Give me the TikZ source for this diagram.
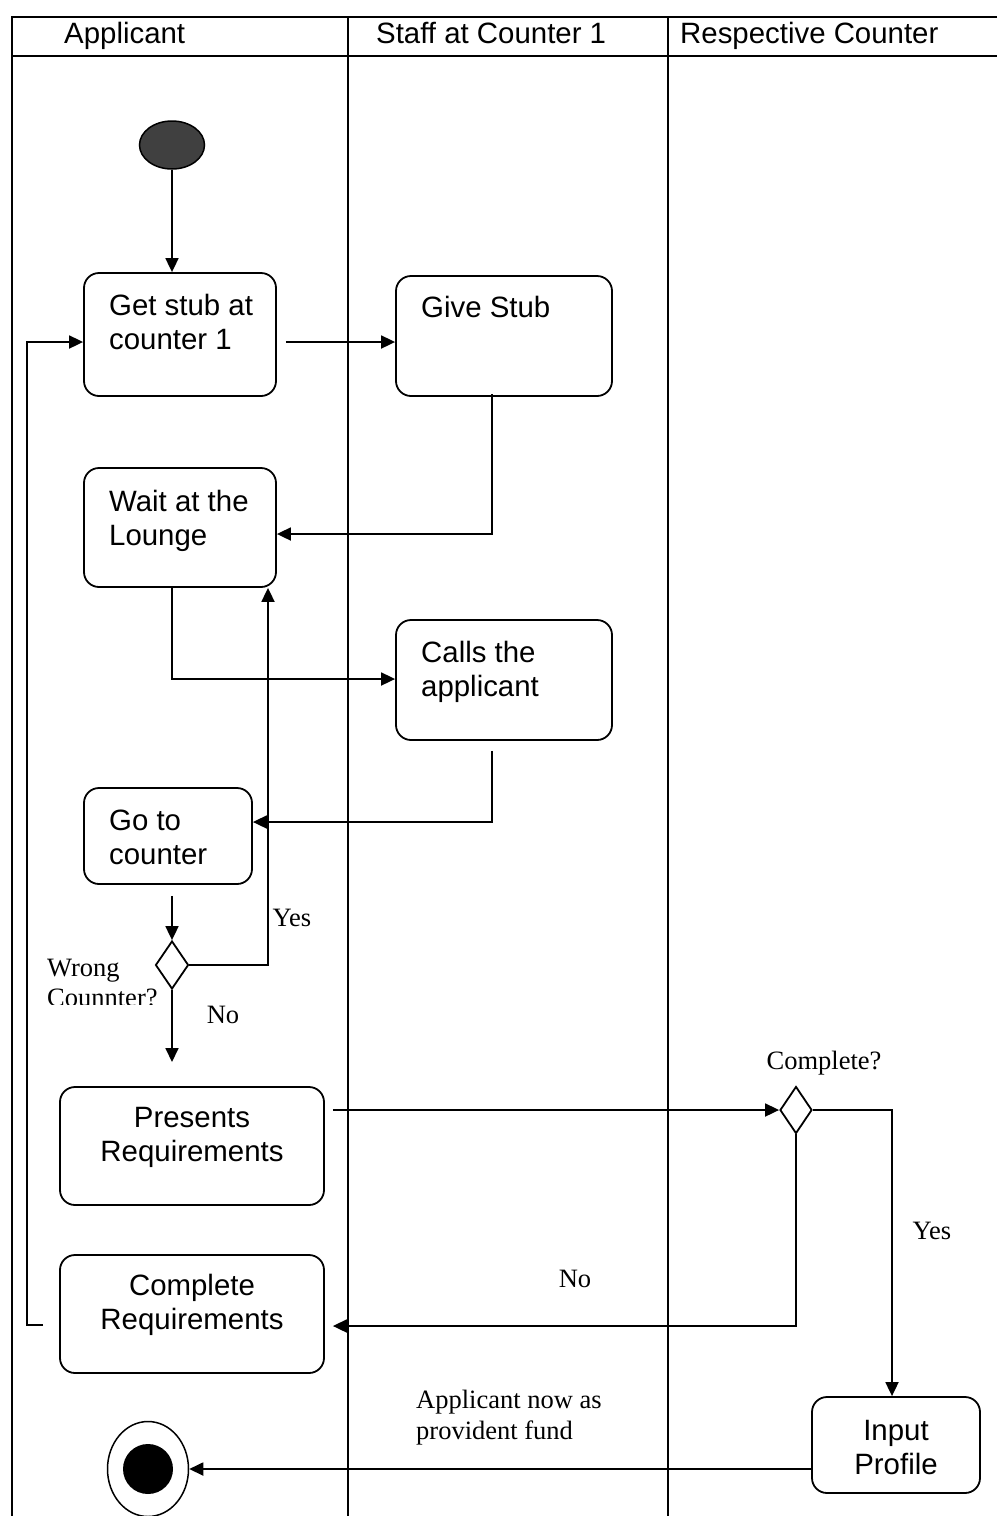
\documentclass[tikz,border=0pt]{standalone}
\usepackage{fontspec}
\setmainfont{Liberation Sans}
\newfontfamily\timesf{Liberation Serif}
\usetikzlibrary{shapes.geometric,arrows.meta,calc}
\begin{document}
\begin{tikzpicture}[x=1pt,y=-1pt,
  box/.style={draw, line width=1.8pt, rounded corners=15pt, inner sep=0pt},
  dec/.style={draw, diamond, line width=1.8pt, inner sep=0pt},
  arr/.style={line width=1.8pt, -{Triangle[length=14pt,width=13pt]}},
  ln/.style={line width=1.8pt},
  frame/.style={line width=2.4pt},
  sans/.style={font=\fontsize{29.4}{34}\selectfont, inner sep=0pt},
  serif/.style={font=\timesf\fontsize{26.5}{30.5}\selectfont, inner sep=0pt}]
\useasboundingbox (0,0) rectangle (997,1516);
% swimlane frame
\draw[frame] (997,17) -- (12,17) -- (12,1516);
\draw[frame] (12,56) -- (997,56);
\draw[frame] (348,17) -- (348,1516);
\draw[frame] (668,17) -- (668,1516);
\node[sans, anchor=base west] (h1) at (64,43) {Applicant};
\node[sans, anchor=base west] (h2) at (376,43) {Staff at Counter 1};
\node[sans, anchor=base west] (h3) at (680,43) {Respective Counter};
% nodes
\node[ellipse, draw, line width=1.5pt, fill=black!75, minimum width=65pt, minimum height=48pt, inner sep=0pt] (start) at (172,145) {};
\node[box, minimum width=192pt, minimum height=123pt] (stub) at (180,334.5) {};
\node[sans, anchor=base west, align=left] (stubt) at (109,349) {Get stub at\\counter 1};
\node[box, minimum width=216pt, minimum height=120pt] (give) at (504,336) {};
\node[sans, anchor=base west] (givet) at (421,317) {Give Stub};
\node[box, minimum width=192pt, minimum height=119pt] (wait) at (180,527.5) {};
\node[sans, anchor=base west, align=left] (waitt) at (109,545) {Wait at the\\Lounge};
\node[box, minimum width=216pt, minimum height=120pt] (calls) at (504,680) {};
\node[sans, anchor=base west, align=left] (callst) at (421,696) {Calls the\\applicant};
\node[box, minimum width=168pt, minimum height=96pt] (goto) at (168,836) {};
\node[sans, anchor=base west, align=left] (gotot) at (109,864) {Go to\\counter};
\node[dec, minimum width=33pt, minimum height=48pt] (wrong) at (172,965) {};
\node[box, minimum width=264pt, minimum height=118pt] (presents) at (192,1146) {};
\node[sans, anchor=base, align=center] (presentst) at (192,1161) {Presents\\Requirements};
\node[box, minimum width=264pt, minimum height=118pt] (complete) at (192,1314) {};
\node[sans, anchor=base, align=center] (completet) at (192,1329) {Complete\\Requirements};
\node[dec, minimum width=32pt, minimum height=47pt] (cdec) at (796,1110) {};
\node[box, minimum width=168pt, minimum height=96pt] (input) at (896,1445) {};
\node[sans, anchor=base, align=center] (inputt) at (896,1474) {Input\\Profile};
\node[ellipse, draw, line width=1.5pt, minimum width=81pt, minimum height=95pt, inner sep=0pt] (endo) at (148,1469) {};
\node[circle, fill=black, minimum size=50pt, inner sep=0pt] (endi) at (148,1469) {};
% labels
\begin{scope}
\clip (0,900) rectangle (340,1004);
\node[serif, anchor=base west, align=left] (wrongt) at (47,1006.5) {Wrong\\Counnter?};
\end{scope}
\node[serif] (yes1) at (292,918) {Yes};
\node[serif] (no1) at (223,1015) {No};
\node[serif] (compq) at (824,1063) {Complete?};
\node[serif] (yes2) at (932,1231) {Yes};
\node[serif] (no2) at (575,1279) {No};
\node[serif, anchor=base west, align=left] (prov) at (416,1439) {Applicant now as\\provident fund};
\coordinate (noend) at (172,1062);
% connectors
\draw[arr] (start) -- (start |- stub.north);
\draw[arr] ($(stub.east)+(9,7.5)$) -- ($(give.west)+(0,6)$);
\draw[arr] ($(give.south)+(-12,-3)$) |- ($(wait.east)+(0,6.5)$);
\draw[arr] ($(wait.south)+(-8,0)$) |- ($(calls.west)+(0,-1)$);
\draw[arr] ($(calls.south)+(-12,10)$) |- ($(goto.east)+(0,-14)$);
\draw[arr] ($(goto.south)+(4,11)$) -- (wrong.north);
\draw[arr] (wrong.east) -| ($(wait.south)+(88,0)$);
\draw[arr] (wrong.south) -- (noend);
\draw[arr] ($(presents.east)+(8,-36)$) -- (cdec.west);
\draw[arr] (cdec.east) -| ($(input.north)+(-4,0)$);
\draw[arr] (cdec.south) |- ($(complete.east)+(8,12)$);
\draw[arr] ($(complete.west)+(-16,11)$) -- ++(-16,0) |- ($(stub.west)+(0,7.5)$);
\draw[arr] ($(input.west)+(0,24)$) -- (endo.east);
\end{tikzpicture}
\end{document}
